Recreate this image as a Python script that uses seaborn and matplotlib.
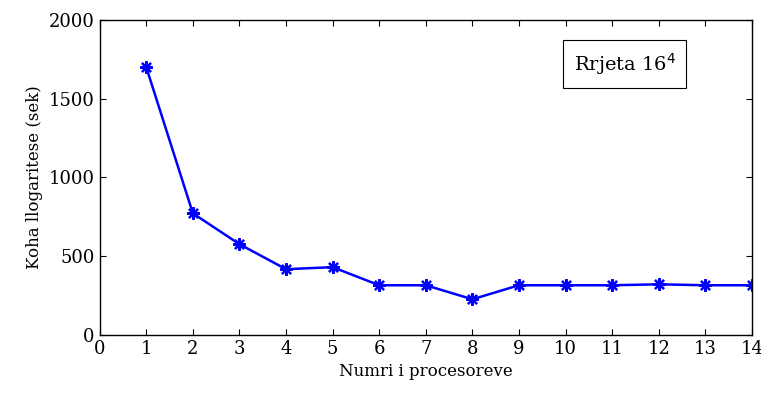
import pandas as pd
import seaborn as sns
import matplotlib.pyplot as plt

# data
procesoret = [1, 2, 3, 4, 5, 6, 7, 8, 9, 10, 11, 12, 13, 14]
koha = [1700, 772, 576, 417, 430, 315, 315, 226, 315, 315, 315, 321, 315, 315]
x_ticks = list(range(0, 15))
y_ticks = [0, 500, 1000, 1500, 2000]

df = pd.DataFrame({'procesoret': procesoret, 'koha': koha})

sns.set_style('ticks')
plt.rcParams['font.family'] = ['DejaVu Serif']
plt.rcParams['text.color'] = 'black'
plt.rcParams['axes.labelcolor'] = 'black'
plt.rcParams['xtick.color'] = 'black'
plt.rcParams['ytick.color'] = 'black'

fig = plt.figure(figsize=(7.61, 3.93), dpi=100)
ax = fig.add_axes([0.131, 0.148, 0.857, 0.801])

sns.lineplot(data=df, x='procesoret', y='koha', ax=ax, color='#0000ff',
             marker=(8, 2, 0), markersize=9, markeredgewidth=1.6,
             markeredgecolor='#0000ff', linewidth=1.8)

ax.set_xlim(0, 14)
ax.set_ylim(0, 2000)
ax.set_xticks(x_ticks)
ax.set_yticks(y_ticks)
ax.tick_params(direction='in', top=True, right=True, labelsize=13, length=4, width=0.8)
for s in ax.spines.values():
    s.set_visible(True)
    s.set_linewidth(1.0)
    s.set_color('black')

ax.set_xlabel('Numri i procesoreve', fontsize=12)
ax.set_ylabel('Koha llogaritese (sek)', fontsize=12)

ax.text(0.805, 0.86, r'Rrjeta 16$^4$', transform=ax.transAxes, fontsize=14,
        ha='center', va='center',
        bbox=dict(boxstyle='square,pad=0.55', facecolor='white', edgecolor='black', linewidth=0.8))

fig.savefig('out.png', dpi=100)
